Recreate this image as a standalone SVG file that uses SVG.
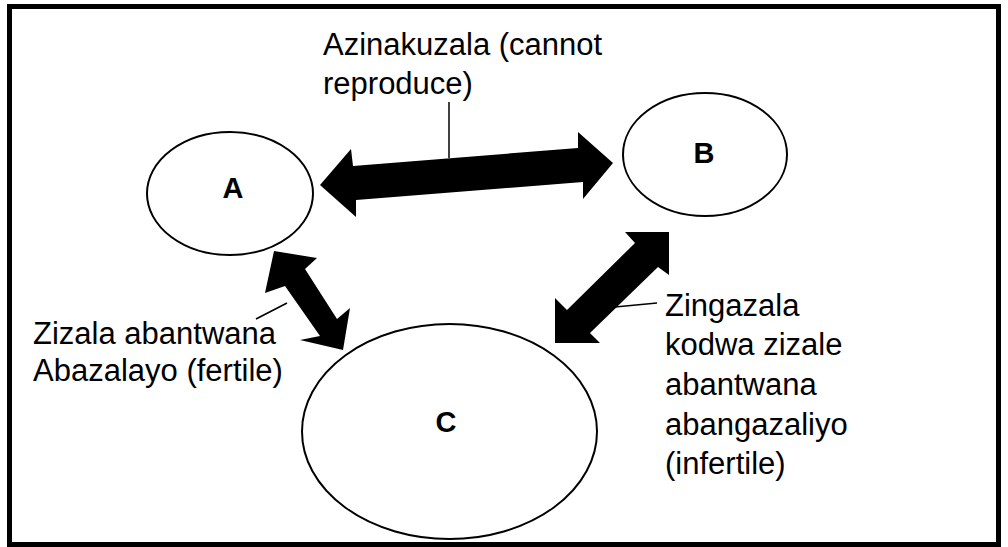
<svg xmlns="http://www.w3.org/2000/svg" width="1008" height="547" viewBox="0 0 1008 547">
<style>
.node{fill:#fff;stroke:#000;stroke-width:2}
.lbl{font-family:"Liberation Sans",Arial,sans-serif;font-size:31px;fill:#000}
.nl{font-family:"Liberation Sans",Arial,sans-serif;font-size:29px;font-weight:bold;fill:#000;text-anchor:middle}
.arr{fill:#000;stroke:none}
.lead{stroke:#000;stroke-width:1.5;fill:none}
</style>
<rect x="9.5" y="6.5" width="989" height="538" fill="#fff" stroke="#000" stroke-width="5"/>
<g id="node-A"><ellipse class="node" cx="230" cy="193.5" rx="83" ry="61.5"/><text class="nl" x="233" y="198">A</text></g>
<g id="node-B"><ellipse class="node" cx="705" cy="154.5" rx="82" ry="61.5"/><text class="nl" x="704" y="163">B</text></g>
<g id="node-C"><ellipse class="node" cx="449.5" cy="431.5" rx="147.5" ry="107.5"/><text class="nl" x="446" y="432">C</text></g>
<g id="connectors">
<polygon class="arr" points="320,185 351,149 353,166 578,148 578,132 613,163 583,199 583,182 356,200 356,217"/>
<polygon class="arr" points="274,251 317,258 305,269 337,319 350,308 343,350 300,340 320,336 285,286 265,293"/>
<polygon class="arr" points="669,232 669,275 658,267 590,333 600,343 555,343 555,298 567,310 635,243 625,232"/>
<line class="lead" x1="449" y1="158" x2="449" y2="102"/>
<line class="lead" x1="287" y1="303" x2="256" y2="319"/>
<line class="lead" x1="615" y1="307" x2="657" y2="303"/>
</g>
<g id="label-top"><text class="lbl" x="323" y="55">Azinakuzala (cannot</text><text class="lbl" x="323" y="94">reproduce)</text></g>
<g id="label-left"><text class="lbl" x="33" y="344">Zizala abantwana</text><text class="lbl" x="33" y="381">Abazalayo (fertile)</text></g>
<g id="label-right"><text class="lbl" x="665" y="316">Zingazala</text><text class="lbl" x="665" y="355">kodwa zizale</text><text class="lbl" x="665" y="395">abantwana</text><text class="lbl" x="665" y="435">abangazaliyo</text><text class="lbl" x="665" y="474">(infertile)</text></g>
</svg>
